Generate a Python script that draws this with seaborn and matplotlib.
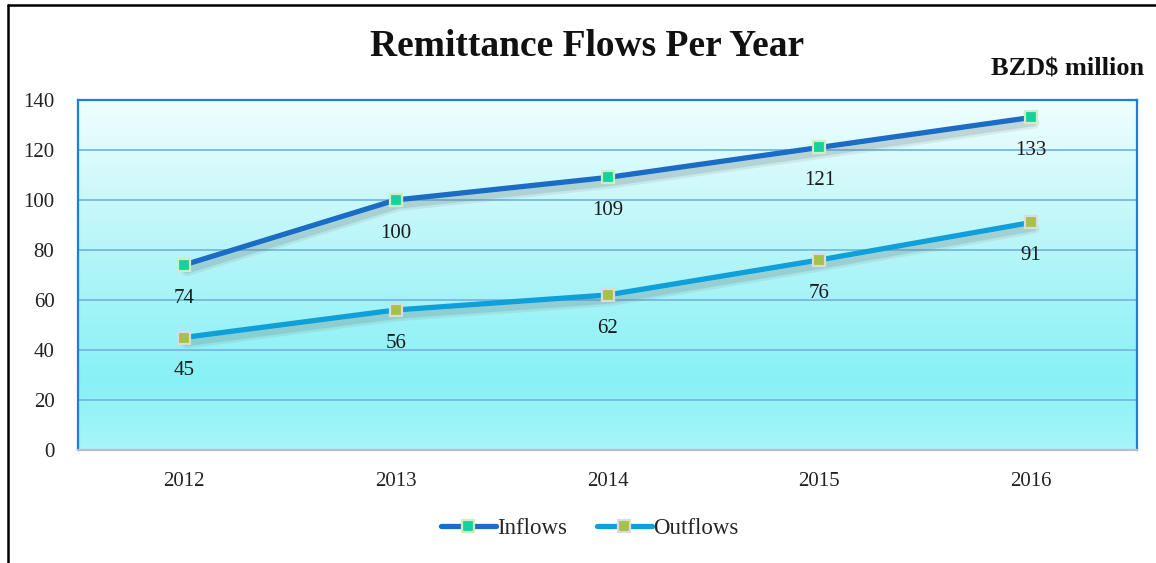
import numpy as np
import pandas as pd
import matplotlib
matplotlib.use("Agg")
import matplotlib.pyplot as plt
from matplotlib import patheffects as pe
from matplotlib.colors import LinearSegmentedColormap
from matplotlib.lines import Line2D
import seaborn as sns

years = ["2012", "2013", "2014", "2015", "2016"]
inflows = [74, 100, 109, 121, 133]
outflows = [45, 56, 62, 76, 91]
series_names = ["Inflows", "Outflows"]
y_ticks = [0, 20, 40, 60, 80, 100, 120, 140]

df = pd.DataFrame({
    "Year": years * 2,
    "Value": inflows + outflows,
    "Series": [series_names[0]] * len(years) + [series_names[1]] * len(years),
})

sns.set_theme(style="white")
plt.rcParams["font.family"] = ["Liberation Serif", "DejaVu Serif"]

line_colors = {"Inflows": "#1b6cc4", "Outflows": "#0f9fd9"}
marker_face = {"Inflows": "#17d19c", "Outflows": "#a7c04a"}
marker_edge = {"Inflows": "#cdeec4", "Outflows": "#d9dcdc"}

fig = plt.figure(figsize=(11.56, 5.63), dpi=100)
ax = fig.add_axes([0.0675, 0.2007, 0.9161, 0.6217])

# gradient backdrop for the plot area
grad_cmap = LinearSegmentedColormap.from_list(
    "bg", [(0.0, "#a8f5f8"), (0.2, "#88f1f6"), (0.55, "#b4f5f8"), (1.0, "#f0fefe")]
)
grad = np.linspace(0, 1, 256).reshape(-1, 1)
ax.imshow(grad, cmap=grad_cmap, aspect="auto", origin="lower",
          extent=[0, 1, 0, 1], transform=ax.transAxes, zorder=0)

# soft drop shadow beneath each line
shadow = [
    pe.SimpleLineShadow(offset=(2, -4), shadow_color="#6a7a7a", alpha=0.12, linewidth=8),
    pe.SimpleLineShadow(offset=(2, -4), shadow_color="#6a7a7a", alpha=0.2, linewidth=4.5),
    pe.Normal(),
]

sns.lineplot(data=df, x="Year", y="Value", hue="Series", palette=line_colors,
             linewidth=3.8, ax=ax, legend=False, sort=False, zorder=3)
for line in ax.lines:
    line.set_path_effects(shadow)
    line.set_solid_capstyle("round")

for name, vals in zip(series_names, [inflows, outflows]):
    ax.plot(years, vals, linestyle="none", marker="s", markersize=9,
            markerfacecolor=marker_face[name], markeredgecolor=marker_edge[name],
            markeredgewidth=1.6, zorder=5)
    for x, v in zip(years, vals):
        ax.annotate(f"{v}", (x, v), xytext=(0, -24), textcoords="offset points",
                    ha="center", va="center", fontsize=15, color="#1a1a1a", zorder=6)

ax.set_xlim(-0.5, 4.5)
ax.set_ylim(0, 140)
ax.set_yticks(y_ticks)
ax.set_yticklabels([str(t) for t in y_ticks], fontsize=15, color="#222222")
ax.tick_params(axis="x", labelsize=15, colors="#222222", pad=16, length=0)
ax.tick_params(axis="y", pad=17, length=0)
ax.set_xlabel("")
ax.set_ylabel("")
ax.grid(False)
for t in y_ticks[1:-1]:
    ax.axhline(t, color="#74b9e3", linewidth=1.3, zorder=1)

for side in ["left", "top", "right"]:
    ax.spines[side].set_color("#1f7ed8")
    ax.spines[side].set_linewidth(1.6)
ax.spines["bottom"].set_color("#b5bfcc")
ax.spines["bottom"].set_linewidth(1.6)

fig.text(0.508, 0.918, "Remittance Flows Per Year", ha="center", va="center",
         fontsize=27, fontweight="bold", color="#111111")
fig.text(0.99, 0.878, "BZD$ million", ha="right", va="center",
         fontsize=19, fontweight="bold", color="#111111")

handles = [
    Line2D([0], [0], color=line_colors[n], linewidth=3.8, marker="s", markersize=9,
           markerfacecolor=marker_face[n], markeredgecolor=marker_edge[n],
           markeredgewidth=1.6, solid_capstyle="round")
    for n in series_names
]
fig.legend(handles, series_names, loc="center", bbox_to_anchor=(0.51, 1 - 528 / 563),
           ncol=2, frameon=False, fontsize=16.5, handlelength=2.4, handletextpad=0.05,
           columnspacing=1.3)

# outer frame strokes on the left and top edges
fig.add_artist(Line2D([0.0065, 0.0065], [0, 0.991], color="black", linewidth=1.8,
                      transform=fig.transFigure))
fig.add_artist(Line2D([0.0065, 1.0], [0.991, 0.991], color="black", linewidth=1.8,
                      transform=fig.transFigure))

fig.savefig("out.png", dpi=100, facecolor="white")
